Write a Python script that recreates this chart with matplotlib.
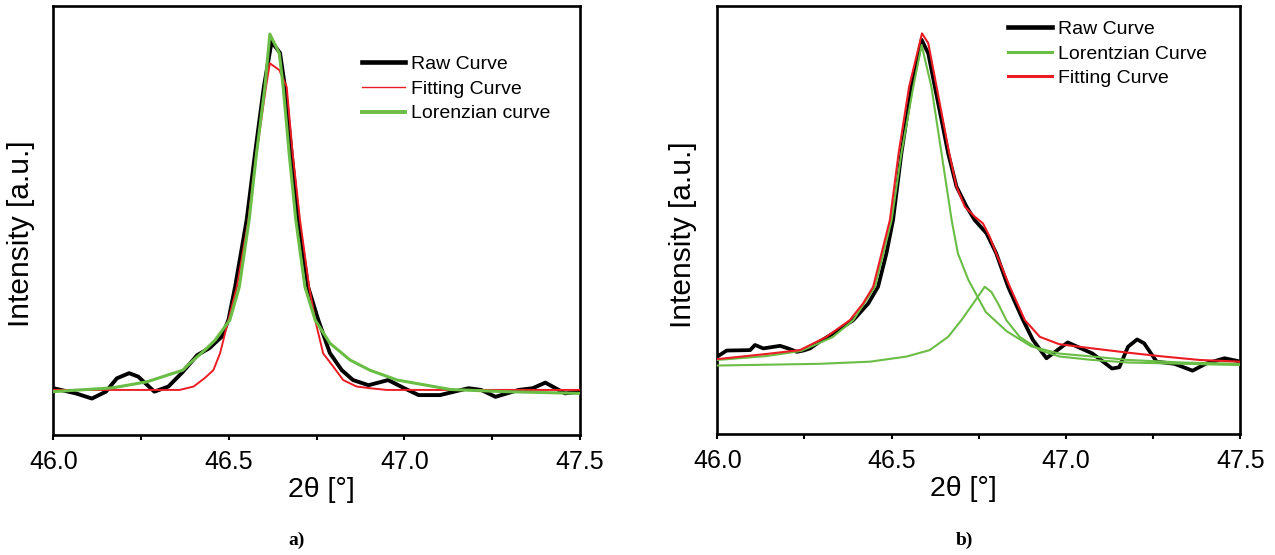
import matplotlib.pyplot as plt

plt.rcParams['font.family'] = ['Liberation Sans', 'DejaVu Sans']

RED = '#ec1c24'
GREEN = '#6abd45'

# ---- panel a) ----
a_raw_x = [46.00, 46.064, 46.11, 46.15, 46.181, 46.216, 46.242, 46.288, 46.328, 46.369,
           46.41, 46.446, 46.46, 46.48, 46.499, 46.518, 46.551, 46.575, 46.60, 46.622,
           46.646, 46.66, 46.679, 46.698, 46.726, 46.755, 46.788, 46.822, 46.854, 46.898,
           46.954, 47.00, 47.041, 47.102, 47.132, 47.183, 47.219, 47.26, 47.326, 47.366,
           47.402, 47.458, 47.50]
a_raw_y = [10.9, 9.7, 8.5, 10.1, 13.2, 14.4, 13.6, 10.1, 11.3, 14.7,
           18.6, 20.3, 21.4, 22.9, 26.8, 34.5, 50.1, 65.7, 81.1, 91.6,
           89.0, 81.1, 65.7, 50.1, 34.5, 26.8, 19.1, 15.1, 12.8, 11.6,
           12.8, 10.9, 9.3, 9.3, 9.9, 10.9, 10.5, 8.9, 10.5, 10.9,
           12.2, 9.7, 10.1]

a_fit_x = [46.00, 46.36, 46.40, 46.432, 46.456, 46.475, 46.499, 46.523, 46.556, 46.579,
           46.606, 46.617, 46.644, 46.665, 46.682, 46.703, 46.729, 46.746, 46.769, 46.798,
           46.826, 46.864, 46.902, 46.95, 47.50]
a_fit_y = [10.5, 10.5, 11.3, 13.3, 15.1, 19.0, 26.8, 34.5, 50.1, 65.6,
           81.1, 86.6, 85.0, 81.1, 65.6, 50.1, 34.5, 26.8, 19.0, 15.9,
           12.8, 11.3, 10.9, 10.5, 10.5]

a_lor_x = [46.00, 46.17, 46.267, 46.369, 46.389, 46.432, 46.461, 46.503, 46.53, 46.558,
           46.579, 46.603, 46.617, 46.644, 46.655, 46.672, 46.691, 46.717, 46.746, 46.788,
           46.845, 46.902, 46.98, 47.132, 47.285, 47.50]
a_lor_y = [10.1, 11.0, 12.4, 15.1, 16.7, 19.8, 22.1, 26.8, 34.5, 50.1,
           65.6, 81.1, 93.4, 88.9, 81.1, 65.6, 50.1, 34.5, 26.8, 21.4,
           17.5, 15.1, 12.8, 10.6, 10.1, 9.7]

# ---- panel b) ----
b_raw_x = [46.00, 46.027, 46.094, 46.108, 46.132, 46.18, 46.203, 46.228, 46.247, 46.266,
           46.294, 46.332, 46.39, 46.433, 46.461, 46.485, 46.504, 46.528, 46.557, 46.586,
           46.605, 46.624, 46.643, 46.662, 46.686, 46.715, 46.738, 46.772, 46.80, 46.834,
           46.877, 46.905, 46.944, 46.982, 47.005, 47.076, 47.132, 47.153, 47.178, 47.204,
           47.224, 47.26, 47.311, 47.363, 47.403, 47.455, 47.49, 47.50]
b_raw_y = [18.1, 19.5, 19.6, 20.8, 20.0, 20.6, 20.0, 19.2, 19.5, 20.0,
           21.6, 23.5, 26.6, 30.5, 34.4, 42.2, 50.0, 65.6, 81.1, 92.1,
           88.9, 81.1, 73.4, 65.6, 57.8, 53.1, 50.0, 46.9, 42.2, 34.4,
           26.6, 22.0, 17.7, 20.0, 21.4, 18.8, 15.3, 15.6, 20.4, 22.1,
           21.2, 16.9, 16.4, 14.8, 16.5, 17.7, 17.1, 16.9]

b_fit_x = [46.00, 46.141, 46.237, 46.313, 46.38, 46.418, 46.447, 46.495, 46.52, 46.55,
           46.587, 46.605, 46.629, 46.665, 46.686, 46.71, 46.738, 46.762, 46.781, 46.80,
           46.839, 46.882, 46.925, 46.98, 47.076, 47.178, 47.28, 47.383, 47.50]
b_fit_y = [17.5, 18.7, 19.6, 22.7, 26.6, 30.5, 34.4, 50.0, 65.6, 81.1,
           93.6, 91.3, 81.1, 65.6, 57.8, 53.1, 50.8, 49.2, 46.1, 42.2,
           34.4, 26.6, 22.7, 21.0, 20.0, 19.0, 18.1, 17.3, 16.9]

b_lor1_x = [46.00, 46.14, 46.24, 46.33, 46.39, 46.452, 46.50, 46.528, 46.562, 46.586,
            46.614, 46.643, 46.672, 46.69, 46.72, 46.77, 46.83, 46.90, 46.98, 47.076,
            47.179, 47.335, 47.50]
b_lor1_y = [17.3, 18.2, 19.4, 22.6, 26.6, 34.4, 50.0, 65.6, 81.1, 90.9,
            81.1, 65.6, 50.0, 42.2, 36.0, 28.5, 24.0, 20.5, 18.8, 18.1,
            17.3, 16.7, 16.4]

b_lor2_x = [46.00, 46.294, 46.438, 46.543, 46.609, 46.662, 46.70, 46.734, 46.767, 46.786,
            46.805, 46.829, 46.867, 46.925, 46.982, 47.076, 47.179, 47.50]
b_lor2_y = [16.0, 16.4, 16.9, 18.1, 19.6, 22.7, 26.6, 30.5, 34.4, 33.2,
            30.5, 26.6, 22.7, 19.6, 18.1, 17.3, 16.7, 16.1]

xticks = [46.0, 46.5, 47.0, 47.5]
minor_ticks = [46.25, 46.75, 47.25]

fig = plt.figure(figsize=(12.75, 5.55), dpi=100)
axa = fig.add_axes([0.0418, 0.2162, 0.4129, 0.7735])
axb = fig.add_axes([0.5626, 0.2180, 0.4102, 0.7712])

axa.plot(a_raw_x, a_raw_y, color='black', lw=2.8, label='Raw Curve', zorder=2)
axa.plot(a_fit_x, a_fit_y, color=RED, lw=1.4, label='Fitting Curve', zorder=3)
axa.plot(a_lor_x, a_lor_y, color=GREEN, lw=2.2, label='Lorenzian curve', zorder=4)

axb.plot(b_raw_x, b_raw_y, color='black', lw=2.7, label='Raw Curve', zorder=2)
axb.plot(b_lor1_x, b_lor1_y, color=GREEN, lw=1.5, label='Lorentzian Curve', zorder=3)
axb.plot(b_lor2_x, b_lor2_y, color=GREEN, lw=1.5, zorder=3)
axb.plot(b_fit_x, b_fit_y, color=RED, lw=1.5, label='Fitting Curve', zorder=4)

for ax in (axa, axb):
    ax.set_xlim(46.0, 47.5)
    ax.set_ylim(0, 100)
    ax.set_xticks(xticks)
    ax.set_xticklabels([f'{t:.1f}' for t in xticks], fontsize=18)
    ax.set_xticks(minor_ticks, minor=True)
    ax.tick_params(axis='x', which='both', direction='out', length=3.5, width=1.5, pad=7.5)
    ax.set_yticks([])
    for s in ax.spines.values():
        s.set_linewidth(1.9)
    ax.set_xlabel('2θ [°]', fontsize=20.5)
    ax.set_ylabel('Intensity [a.u.]', fontsize=21.5)

axa.xaxis.set_label_coords(0.51, -0.098)
axb.xaxis.set_label_coords(0.471, -0.098)
axa.yaxis.set_label_coords(-0.035, 0.47)
axb.yaxis.set_label_coords(-0.039, 0.465)

leg_a = axa.legend(loc='upper left', bbox_to_anchor=(0.5857, 0.884), frameon=False,
                   fontsize=14, borderaxespad=0, borderpad=0, handlelength=2.25,
                   handletextpad=0.3, labelspacing=0.36)
leg_a.get_lines()[0].set_linewidth(3.3)
leg_a.get_lines()[1].set_linewidth(1.0)
leg_a.get_lines()[2].set_linewidth(2.8)

leg_b = axb.legend(loc='upper left', bbox_to_anchor=(0.556, 0.9666), frameon=False,
                   fontsize=14, borderaxespad=0, borderpad=0, handlelength=2.25,
                   handletextpad=0.3, labelspacing=0.36)
leg_b.get_lines()[0].set_linewidth(3.3)
leg_b.get_lines()[1].set_linewidth(2.2)
leg_b.get_lines()[2].set_linewidth(2.2)

fig.text(297 / 1275, 1 - 540 / 555, 'a)', ha='center', va='center', fontsize=14,
         fontweight='bold', family='Liberation Serif')
fig.text(964 / 1275, 1 - 540 / 555, 'b)', ha='center', va='center', fontsize=14,
         fontweight='bold', family='Liberation Serif')

fig.savefig('out.png', dpi=100)
